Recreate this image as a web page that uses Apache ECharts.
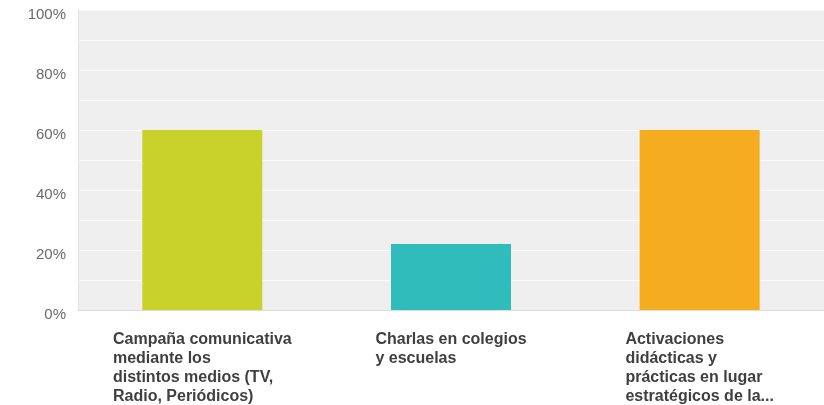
<!DOCTYPE html>
<html>
<head>
<meta charset="utf-8">
<script src="https://cdn.jsdelivr.net/npm/echarts@6/dist/echarts.min.js"></script>
<style>
  html, body { margin: 0; padding: 0; background: #ffffff; }
  #chart { width: 824px; height: 405px; }
</style>
</head>
<body>
<div id="chart"></div>
<script>
// Survey answers (share of respondents, %)
var categories = [
  'Campaña comunicativa\nmediante los\ndistintos medios (TV,\nRadio, Periódicos)',
  'Charlas en colegios\ny escuelas',
  'Activaciones\ndidácticas y\nprácticas en lugar\nestratégicos de la...'
];
var values = [60, 22, 60];
var barColors = ['#c9d22b', '#31bcbc', '#f5ad1f'];
var yTicks = [0, 20, 40, 60, 80, 100];

var chart = echarts.init(document.getElementById('chart'), null, { renderer: 'canvas' });

var option = {
  animation: false,
  backgroundColor: '#ffffff',
  grid: {
    left: 78,
    top: 10,
    width: 748,
    height: 300,
    show: true,
    backgroundColor: '#efefef',
    borderWidth: 0
  },
  xAxis: {
    type: 'category',
    data: categories,
    axisTick: { show: false },
    axisLine: { show: true, lineStyle: { color: '#dddddd', width: 1 } },
    axisLabel: {
      interval: 0,
      margin: 20,
      align: 'center',
      // each line left-aligned inside a block centred under its bar
      formatter: function (value) {
        return value.split('\n').map(function (line) {
          return '{t|' + line + '}';
        }).join('\n');
      },
      rich: {
        t: {
          align: 'left',
          fontFamily: '"Liberation Sans", Arial, sans-serif',
          fontSize: 16,
          fontWeight: 'bold',
          color: '#3f3f3f',
          lineHeight: 19
        }
      }
    }
  },
  yAxis: {
    type: 'value',
    min: 0,
    max: 100,
    interval: 10,
    axisTick: { show: false },
    axisLine: { show: true, lineStyle: { color: '#e2e2e2', width: 1 } },
    splitLine: { show: true, lineStyle: { color: '#fbfbfb', width: 1 } },
    axisLabel: {
      margin: 12,
      fontFamily: '"Liberation Sans", Arial, sans-serif',
      fontSize: 15,
      color: '#6a6a6a',
      verticalAlign: 'top',
      lineHeight: 10,
      formatter: function (v) {
        return yTicks.indexOf(v) >= 0 ? v + '%' : '';
      }
    }
  },
  series: [{
    type: 'bar',
    barWidth: 120,
    data: values.map(function (v, i) {
      return { value: v, itemStyle: { color: barColors[i] } };
    })
  }]
};

chart.setOption(option);
</script>
</body>
</html>
